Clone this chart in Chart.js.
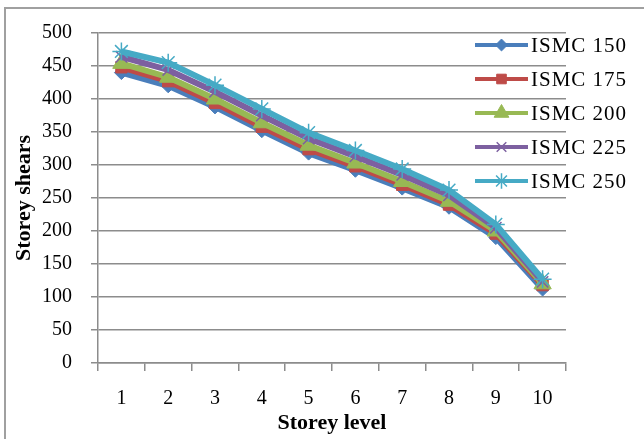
<!DOCTYPE html>
<html>
<head>
<meta charset="utf-8">
<script src="https://cdn.jsdelivr.net/npm/chart.js@4"></script>
<style>
  html, body { margin: 0; padding: 0; background: #fff; }
  #wrap { position: relative; width: 644px; height: 439px; overflow: hidden; }
  #frame { position: absolute; left: 4px; top: 7px; width: 700px; height: 500px;
           border-left: 2px solid #a0a0a0; border-top: 2px solid #a0a0a0; }
  canvas { position: absolute; left: 0; top: 0; }
</style>
</head>
<body>
<div id="wrap">
  <div id="frame"></div>
  <canvas id="c" width="644" height="439"></canvas>
</div>
<script>
const categories = ['1', '2', '3', '4', '5', '6', '7', '8', '9', '10'];
const seriesNames = ['ISMC 150', 'ISMC 175', 'ISMC 200', 'ISMC 225', 'ISMC 250'];
const ismc150 = [440, 420, 388, 352, 318, 292, 265, 236, 190, 112];
const ismc175 = [448, 427, 394, 358, 324, 298, 270, 240, 196, 118];
const ismc200 = [454, 433, 400, 364, 330, 303, 275, 245, 200, 120];
const ismc225 = [464, 444, 411, 375, 340, 313, 285, 254, 205, 123];
const ismc250 = [472, 455, 421, 385, 349, 322, 294, 262, 210, 127];
const yTicks = [0, 50, 100, 150, 200, 250, 300, 350, 400, 450, 500];

const colors = ['#4A7EBB', '#BE4B48', '#98B954', '#7D60A0', '#46AAC5'];
const styles = ['rectRot', 'rect', 'triangle', 'crossRot', 'star'];
const radii = [7, 8, 10, 8, 9];
const seriesData = [ismc150, ismc175, ismc200, ismc225, ismc250];

const datasets = seriesData.map((d, i) => ({
  label: seriesNames[i],
  data: d,
  borderColor: colors[i],
  backgroundColor: colors[i],
  borderWidth: 6,
  pointStyle: styles[i],
  pointRadius: radii[i],
  pointBorderWidth: (styles[i] === 'crossRot' || styles[i] === 'star') ? 1.5 : 1,
  pointBorderColor: colors[i],
  pointBackgroundColor: colors[i],
  tension: 0,
  order: 5 - i
}));

const serif = "'Liberation Serif', 'Times New Roman', serif";

const legendPlugin = {
  id: 'customLegend',
  afterDraw(chart) {
    const ctx = chart.ctx;
    const x0 = 475, x1 = 528, tx = 531;
    const ys = [45, 79, 113, 147, 181];
    ctx.save();
    chart.data.datasets.forEach((ds, i) => {
      const y = ys[i];
      ctx.strokeStyle = ds.borderColor;
      ctx.lineWidth = 4;
      ctx.beginPath();
      ctx.moveTo(x0, y);
      ctx.lineTo(x1, y);
      ctx.stroke();
      ctx.fillStyle = ds.backgroundColor;
      ctx.strokeStyle = ds.borderColor;
      ctx.lineWidth = ds.pointBorderWidth;
      Chart.helpers.drawPoint(ctx, {pointStyle: ds.pointStyle, radius: ds.pointRadius * 0.85, rotation: 0, borderWidth: ds.pointBorderWidth}, (x0 + x1) / 2, y);
      ctx.fillStyle = '#000';
      ctx.font = "21px " + serif;
      if ('letterSpacing' in ctx) ctx.letterSpacing = '1px';
      ctx.textBaseline = 'middle';
      ctx.textAlign = 'left';
      ctx.fillText(ds.label, tx, y + 1);
      if ('letterSpacing' in ctx) ctx.letterSpacing = '0px';
    });
    ctx.restore();
  }
};

new Chart(document.getElementById('c'), {
  type: 'line',
  data: { labels: categories, datasets },
  plugins: [legendPlugin],
  options: {
    responsive: false,
    animation: false,
    layout: { padding: { left: 0, right: 78, top: 33, bottom: 0 } },
    plugins: { legend: { display: false }, tooltip: { enabled: false } },
    scales: {
      x: {
        offset: true,
        grid: { offset: true, drawOnChartArea: false, drawTicks: true, tickLength: 8, color: '#8c8c8c', lineWidth: 1.5 },
        border: { display: true, color: '#8c8c8c', width: 1.5 },
        ticks: { color: '#000', font: { family: serif, size: 20 }, padding: 16, maxRotation: 0, autoSkip: false },
        title: { display: true, text: 'Storey level', color: '#000', font: { family: serif, size: 22, weight: 'bold' }, padding: { top: 0, bottom: 2 } },
        afterFit(scale) { scale.height = 76; }
      },
      y: {
        min: 0, max: 500,
        afterBuildTicks(scale) { scale.ticks = yTicks.map(v => ({ value: v })); },
        grid: { color: '#8c8c8c', lineWidth: 1.5, tickLength: 7 },
        border: { display: true, color: '#8c8c8c', width: 1.5 },
        ticks: { color: '#000', font: { family: serif, size: 20 }, padding: 19 },
        title: { display: true, text: 'Storey shears', color: '#000', font: { family: serif, size: 22, weight: 'bold' }, padding: { top: 11, bottom: 0 } },
        afterFit(scale) { scale.width = 98; }
      }
    }
  }
});
</script>
</body>
</html>
